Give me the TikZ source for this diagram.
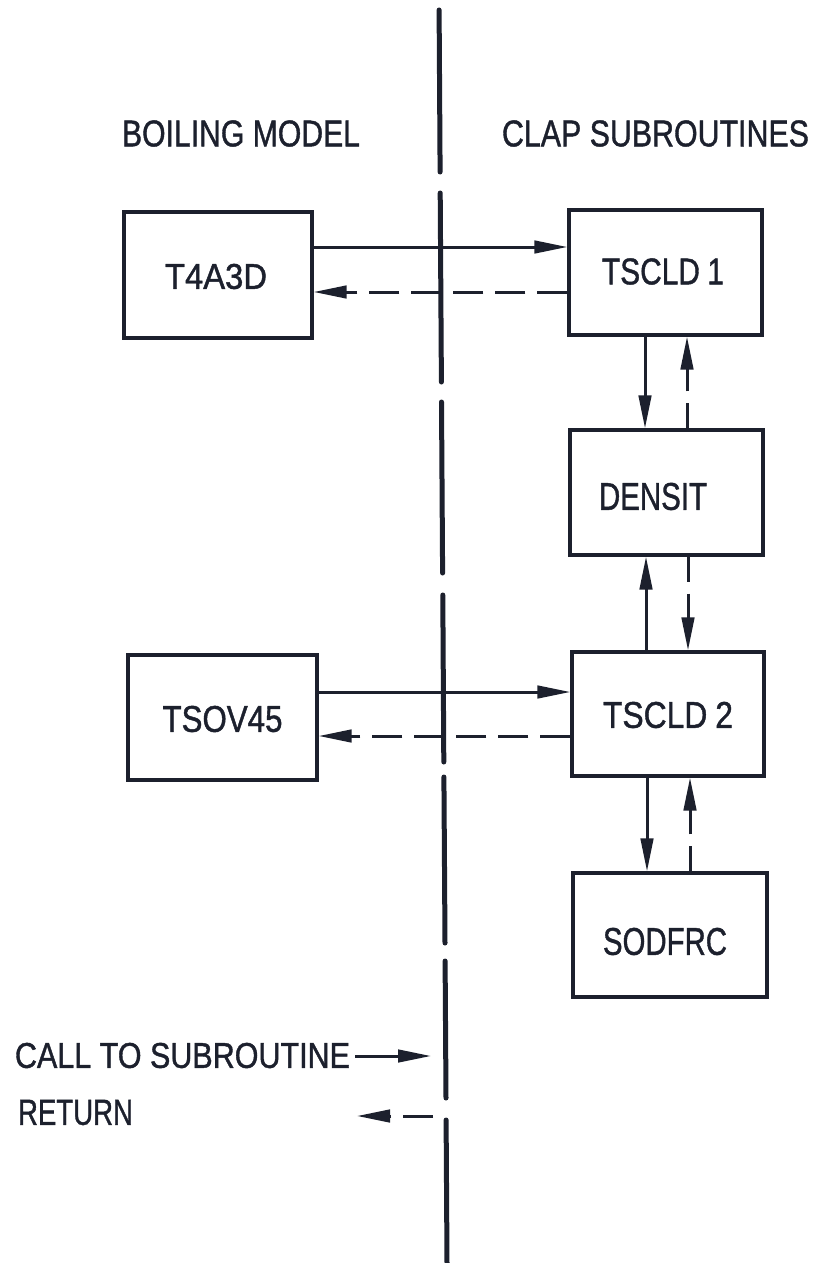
\documentclass[tikz,border=0pt]{standalone}
\usepackage{fontspec}
\setmainfont[FakeBold=1.2]{Liberation Sans}
\usepackage{graphicx}
\usetikzlibrary{arrows.meta}
\definecolor{ink}{RGB}{28,32,45}
\newcommand{\fitlbl}[3]{\resizebox{#1pt}{#2pt}{#3}}
\begin{document}
\begin{tikzpicture}[x=1pt,y=-1pt,color=ink,
  box/.style={draw=ink,line width=3.2pt,inner sep=0pt,rectangle},
  call/.style={draw=ink,line width=3pt,-{Triangle[length=33pt,width=12.5pt]}},
  ret/.style={call,dash pattern=on 30pt off 12pt},
  vret/.style={call,dash pattern=on 25pt off 12pt},
  axisline/.style={draw=ink,line width=5pt,line cap=round},
  txt/.style={inner sep=0pt,text=ink}]
\useasboundingbox (0,0) rectangle (819,1263);
\fill[white] (0,0) rectangle (819,1263);

% dividing line
\draw[axisline] (439.1,10) -- (440.1,172);
\draw[axisline] (440.2,193) -- (441.4,382);
\draw[axisline] (441.5,402) -- (442.6,573);
\draw[axisline] (442.8,595) -- (443.8,762);
\draw[axisline] (443.9,777) -- (445.0,943);
\draw[axisline] (445.1,961) -- (446.0,1098);
\draw[axisline] (446.1,1120) -- (447.0,1263);

% headers
\node[txt] (hboil) at (241,133.5) {\fitlbl{238}{26}{BOILING MODEL}};
\node[txt] (hclap) at (655.5,133.5) {\fitlbl{307}{26}{CLAP SUBROUTINES}};

% boxes
\node[box,minimum width=188,minimum height=126,
  label={[txt,shift={(-2,1.5)}]center:\fitlbl{102}{25}{T4A3D}}] (t4a3d) at (218,275) {};
\node[box,minimum width=193,minimum height=125,
  label={[txt,shift={(-2.5,-1)}]center:\fitlbl{122}{26}{TSCLD\kern0.25em1}}] (tscld1) at (665.5,272.5) {};
\node[box,minimum width=193,minimum height=125,
  label={[txt,shift={(-13.5,4)}]center:\fitlbl{108}{27}{DENSIT}}] (densit) at (666.5,492.5) {};
\node[box,minimum width=189,minimum height=125,
  label={[txt,shift={(0,1.5)}]center:\fitlbl{120}{26}{TSOV45}}] (tsov45) at (222.5,717.5) {};
\node[box,minimum width=192,minimum height=124,
  label={[txt,shift={(0,1)}]center:\fitlbl{130}{26}{TSCLD\kern0.25em2}}] (tscld2) at (668,714) {};
\node[box,minimum width=194,minimum height=124,
  label={[txt,shift={(-5,6.5)}]center:\fitlbl{124}{27}{SODFRC}}] (sodfrc) at (670,935) {};

% helper coordinates for connector positions
\coordinate (h1) at (0,247);
\coordinate (h2) at (0,292);
\coordinate (h3) at (0,692);
\coordinate (h4) at (0,736);
\coordinate (v1) at (645,0);
\coordinate (v2) at (687,0);
\coordinate (v3) at (646,0);
\coordinate (v4) at (688,0);
\coordinate (v5) at (647,0);
\coordinate (v6) at (690,0);

% connectors
\draw[call] (t4a3d.east |- h1) -- (tscld1.west |- h1);
\draw[ret] (tscld1.west |- h2) -- (t4a3d.east |- h2);
\draw[call] (tscld1.south -| v1) -- (densit.north -| v1);
\draw[vret] (densit.north -| v2) -- (tscld1.south -| v2);
\draw[call] (tscld2.north -| v3) -- (densit.south -| v3);
\draw[vret] (densit.south -| v4) -- (tscld2.north -| v4);
\draw[call] (tsov45.east |- h3) -- (tscld2.west |- h3);
\draw[ret] (tscld2.west |- h4) -- (tsov45.east |- h4);
\draw[call] (tscld2.south -| v5) -- (sodfrc.north -| v5);
\draw[vret] (sodfrc.north -| v6) -- (tscld2.south -| v6);

% legend
\node[txt] (lcall) at (182.5,1055.5) {\fitlbl{335}{25}{CALL TO SUBROUTINE}};
\node[txt] (lret) at (75.5,1112.5) {\fitlbl{115}{25}{RETURN}};
\coordinate (ca) at (355,1056);
\coordinate (cb) at (431,1056);
\coordinate (ra) at (433,1116);
\coordinate (rb) at (357,1116);
\draw[call] (ca) -- (cb);
\draw[ret] (ra) -- (rb);
\end{tikzpicture}
\end{document}
